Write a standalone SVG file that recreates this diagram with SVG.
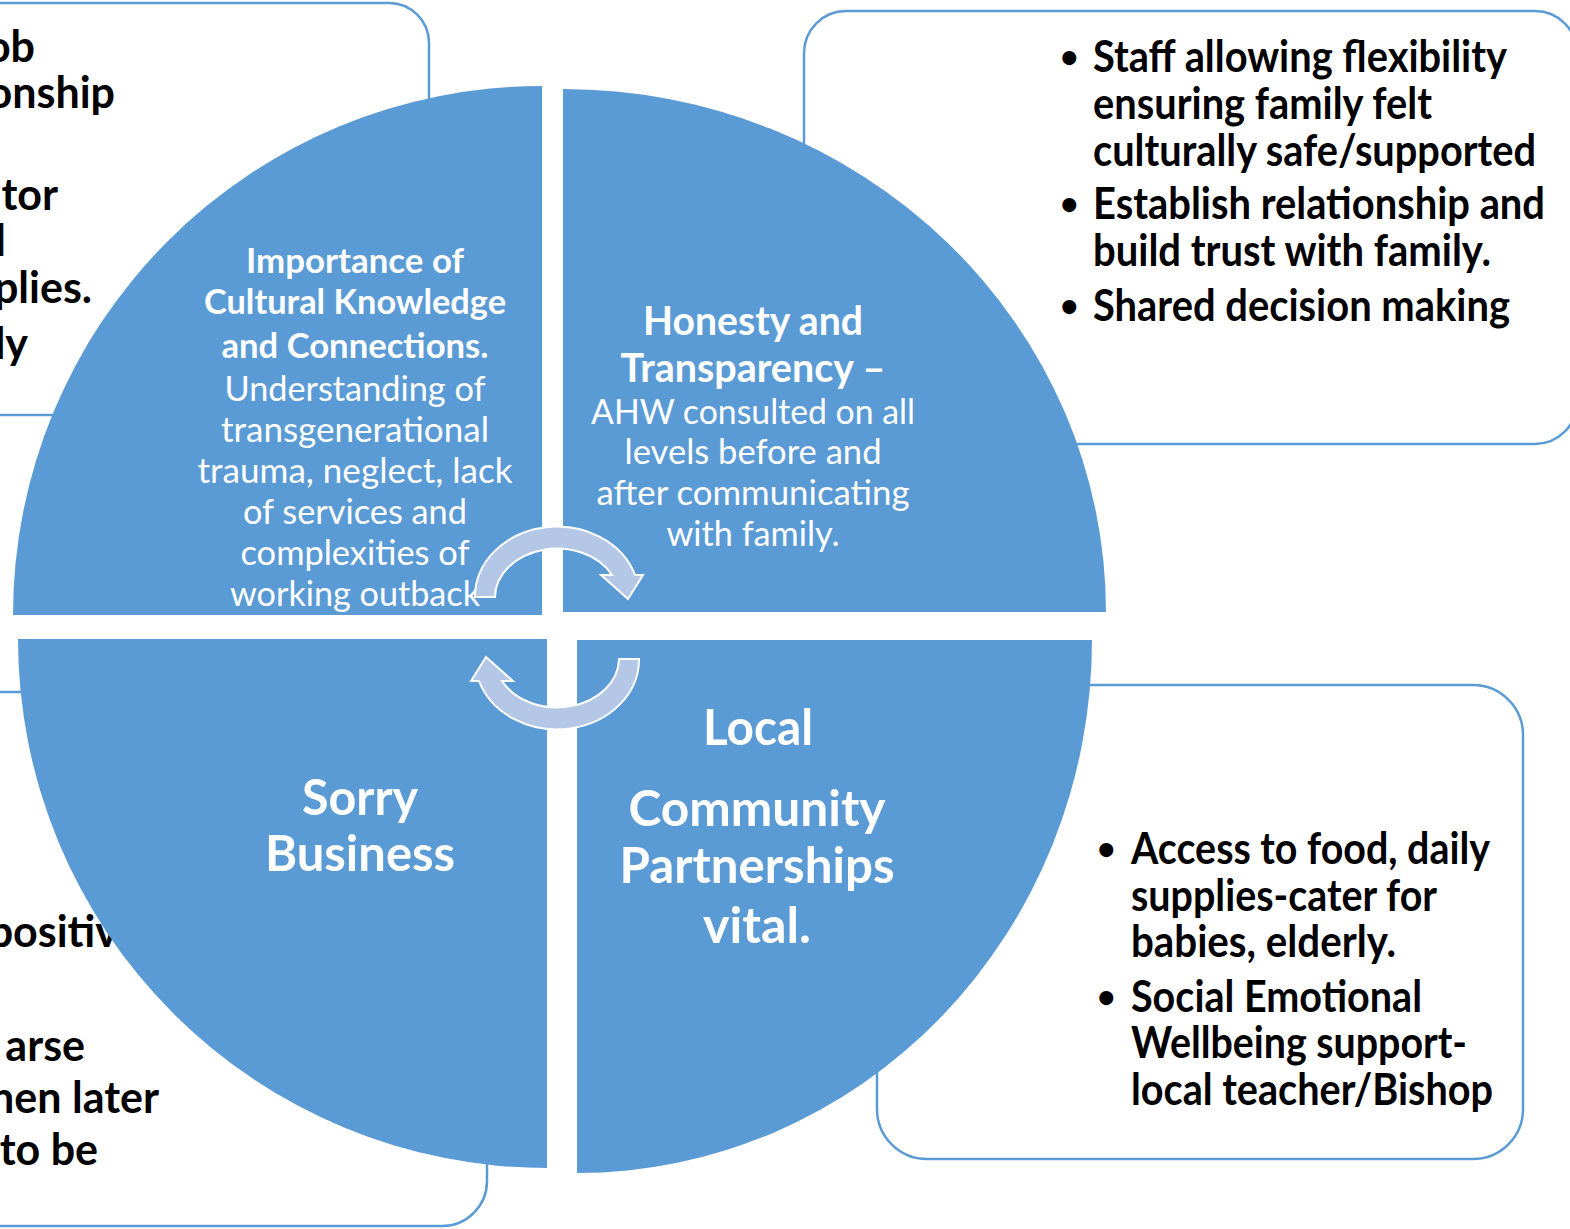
<svg xmlns="http://www.w3.org/2000/svg" width="1570" height="1229" viewBox="0 0 1570 1229">
<style>
.box{fill:#fff;stroke:#5B9BD5;stroke-width:2.5}
.q{fill:#5B9BD5}
.bt{font-family:Lato,"Liberation Sans",sans-serif;font-weight:700;font-size:43px;fill:#000}
.bu{font-size:32px}
.wb{font-family:Lato,"Liberation Sans",sans-serif;font-weight:700;fill:#fff;text-anchor:middle}
.wr{font-family:Lato,"Liberation Sans",sans-serif;font-weight:400;font-size:35px;fill:#fff;text-anchor:middle}
.arr{fill:#B4C7E7;stroke:#fff;stroke-width:2;stroke-linejoin:miter}
</style>
<rect width="1570" height="1229" fill="#fff"/>

<g id="box-top-left">
<rect class="box" x="-400" y="3" width="829" height="412" rx="40"/>
<g class="bt" text-anchor="end">
<text x="35" y="62">ob</text>
<text x="115" y="108">onship</text>
<text x="58" y="210">ntor</text>
<text x="6" y="256">l</text>
<text x="92" y="303">plies.</text>
<text x="28" y="359">ly</text>
</g>
</g>

<g id="box-top-right">
<rect class="box" x="804" y="11" width="773" height="433" rx="42"/>
<g class="bt">
<text class="bu" x="1060" y="68">•</text>
<text x="1093" y="72" textLength="414" lengthAdjust="spacingAndGlyphs">Staff allowing flexibility</text>
<text x="1093" y="119" textLength="339" lengthAdjust="spacingAndGlyphs">ensuring family felt</text>
<text x="1093" y="166" textLength="443" lengthAdjust="spacingAndGlyphs">culturally safe/supported</text>
<text class="bu" x="1060" y="215">•</text>
<text x="1093" y="219" textLength="452" lengthAdjust="spacingAndGlyphs">Establish relationship and</text>
<text x="1093" y="266" textLength="398" lengthAdjust="spacingAndGlyphs">build trust with family.</text>
<text class="bu" x="1060" y="317">•</text>
<text x="1093" y="321" textLength="417" lengthAdjust="spacingAndGlyphs">Shared decision making</text>
</g>
</g>

<g id="box-bottom-right">
<rect class="box" x="877" y="685" width="646" height="474" rx="50"/>
<g class="bt">
<text class="bu" x="1097" y="860">•</text>
<text x="1131" y="864" textLength="359" lengthAdjust="spacingAndGlyphs">Access to food, daily</text>
<text x="1131" y="911" textLength="306" lengthAdjust="spacingAndGlyphs">supplies-cater for</text>
<text x="1131" y="957" textLength="265" lengthAdjust="spacingAndGlyphs">babies, elderly.</text>
<text class="bu" x="1097" y="1008">•</text>
<text x="1131" y="1012" textLength="291" lengthAdjust="spacingAndGlyphs">Social Emotional</text>
<text x="1131" y="1058" textLength="336" lengthAdjust="spacingAndGlyphs">Wellbeing support-</text>
<text x="1131" y="1105" textLength="362" lengthAdjust="spacingAndGlyphs">local teacher/Bishop</text>
</g>
</g>

<g id="box-bottom-left">
<rect class="box" x="-400" y="692" width="887" height="534" rx="45"/>
<g class="bt" text-anchor="end">
<text x="118" y="947">positiv</text>
<text x="85" y="1061">arse</text>
<text x="159" y="1113">hen later</text>
<text x="98" y="1165">to be</text>
</g>
</g>

<g id="quadrant-top-left">
<path class="q" d="M542,615 L13,615 A529,529 0 0 1 542,86 Z"/>
<text class="wb" font-size="35" x="355" y="273" textLength="218" lengthAdjust="spacingAndGlyphs">Importance of</text>
<text class="wb" font-size="35" x="355" y="314" textLength="302" lengthAdjust="spacingAndGlyphs">Cultural Knowledge</text>
<text class="wb" font-size="35" x="355" y="358" textLength="267" lengthAdjust="spacingAndGlyphs">and Connections.</text>
<text class="wr" x="355" y="401" textLength="261" lengthAdjust="spacingAndGlyphs">Understanding of</text>
<text class="wr" x="355" y="442" textLength="268" lengthAdjust="spacingAndGlyphs">transgenerational</text>
<text class="wr" x="355" y="483" textLength="315" lengthAdjust="spacingAndGlyphs">trauma, neglect, lack</text>
<text class="wr" x="355" y="524" textLength="224" lengthAdjust="spacingAndGlyphs">of services and</text>
<text class="wr" x="355" y="565" textLength="229" lengthAdjust="spacingAndGlyphs">complexities of</text>
<text class="wr" x="355" y="606" textLength="250" lengthAdjust="spacingAndGlyphs">working outback</text>
</g>

<g id="quadrant-top-right">
<path class="q" d="M563,612 L563,89 A543,523 0 0 1 1106,612 Z"/>
<text class="wb" font-size="40" x="753" y="335" textLength="220" lengthAdjust="spacingAndGlyphs">Honesty and</text>
<text class="wb" font-size="40" x="753" y="382" textLength="265" lengthAdjust="spacingAndGlyphs">Transparency –</text>
<text class="wr" x="753" y="424" textLength="324" lengthAdjust="spacingAndGlyphs">AHW consulted on all</text>
<text class="wr" x="753" y="464" textLength="257" lengthAdjust="spacingAndGlyphs">levels before and</text>
<text class="wr" x="753" y="505" textLength="313" lengthAdjust="spacingAndGlyphs">after communicating</text>
<text class="wr" x="753" y="546" textLength="173" lengthAdjust="spacingAndGlyphs">with family.</text>
</g>

<g id="quadrant-bottom-left">
<path class="q" d="M547,639 L547,1168 A529,529 0 0 1 18,639 Z"/>
<text class="wb" font-size="50" x="360" y="815" textLength="116" lengthAdjust="spacingAndGlyphs">Sorry</text>
<text class="wb" font-size="50" x="360" y="871" textLength="190" lengthAdjust="spacingAndGlyphs">Business</text>
</g>

<g id="quadrant-bottom-right">
<path class="q" d="M577,640 L1092,640 A515,533 0 0 1 577,1173 Z"/>
<text class="wb" font-size="50" x="758" y="745" textLength="110" lengthAdjust="spacingAndGlyphs">Local</text>
<text class="wb" font-size="50" x="757" y="826" textLength="257" lengthAdjust="spacingAndGlyphs">Community</text>
<text class="wb" font-size="50" x="757" y="883" textLength="275" lengthAdjust="spacingAndGlyphs">Partnerships</text>
<text class="wb" font-size="50" x="757" y="943" textLength="108" lengthAdjust="spacingAndGlyphs">vital.</text>
</g>

<g id="connectors">
<path id="arrow-top" class="arr" d="M475,597 A82,70 0 0 1 635,575 L643,575 L628,599 L601,575 L612,575 A62,49 0 0 0 495,597 Z"/>
<path id="arrow-bottom" class="arr" transform="rotate(180 557 628)" d="M475,597 A82,70 0 0 1 635,575 L643,575 L628,599 L601,575 L612,575 A62,49 0 0 0 495,597 Z"/>
</g>
</svg>
